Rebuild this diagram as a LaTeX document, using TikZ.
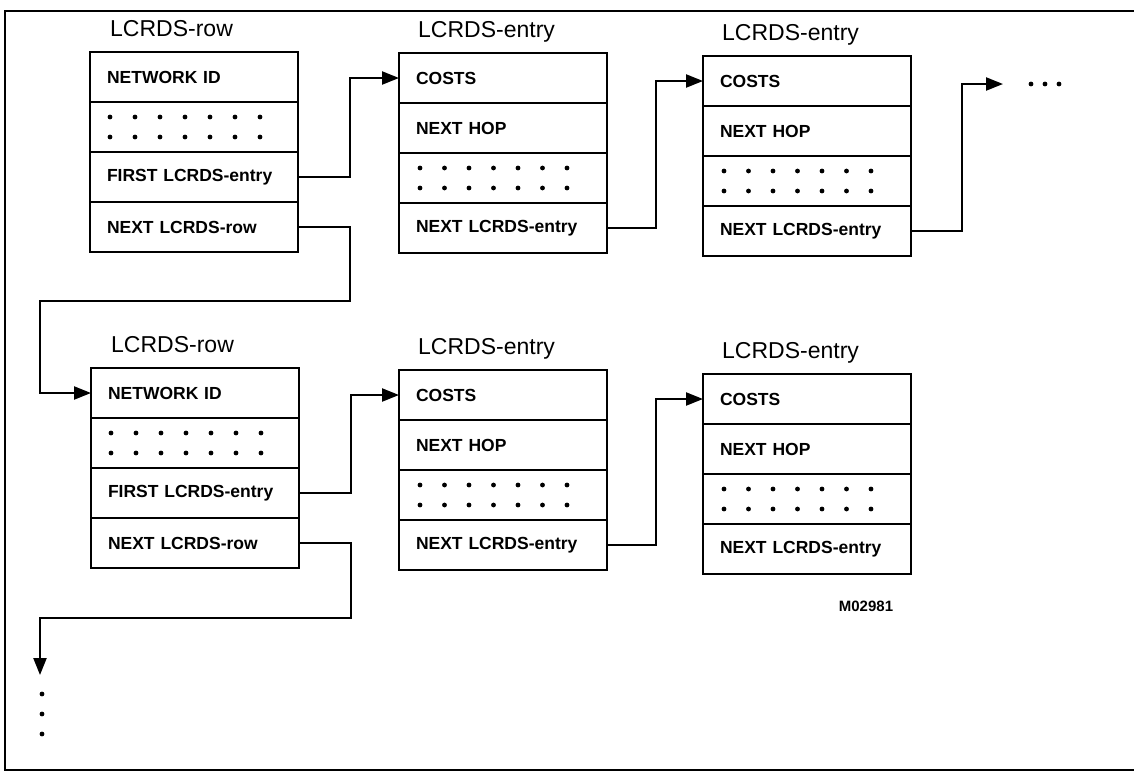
\documentclass[tikz,border=0pt]{standalone}
\usepackage{fontspec}
\setmainfont{Liberation Sans}
\usetikzlibrary{arrows.meta, positioning}

\newcommand\cellfont{\fontsize{17.5}{21}\selectfont\bfseries}
\newcommand\titlefont{\fontsize{23}{26}\selectfont}

\begin{document}
\begin{tikzpicture}[
    x=1pt, y=-1pt,
    cell/.style={draw, line width=2.6pt, outer sep=0pt, minimum width=208pt,
                 minimum height=50pt, text width=174pt, inner xsep=17pt,
                 align=left, font=\cellfont},
    title/.style={anchor=base west, inner sep=0pt, font=\titlefont},
    link/.style={-{Triangle[length=17pt,width=13pt]}, line width=2.3pt}
]
\useasboundingbox (0,0) rectangle (1134,772);
\draw[line width=1.6pt] (1134,11) -- (5,11) -- (5,770) -- (1134,770);

% LCRDS rows
\foreach \n/\x/\y in {r1/90/52, r2/91/368} {
  \node[cell, anchor=north west] (\n-net) at (\x,\y) {NETWORK ID};
  \node[cell, below=0pt of \n-net]   (\n-dots)  {};
  \node[cell, below=0pt of \n-dots]  (\n-first) {FIRST LCRDS-entry};
  \node[cell, below=0pt of \n-first] (\n-next)  {NEXT LCRDS-row};
  \node[title] (\n-title) at ([xshift=20pt,yshift=16pt]\n-net.north west) {LCRDS-row};
  \foreach \i in {0,...,6} \foreach \j in {-10,10}
    \fill ([xshift=20pt+\i*25pt, yshift=\j pt]\n-dots.west) circle (2.4pt);
}

% LCRDS entries
\foreach \n/\x/\y in {e1/399/53, e2/703/56, e3/399/370, e4/703/374} {
  \node[cell, anchor=north west] (\n-costs) at (\x,\y) {COSTS};
  \node[cell, below=0pt of \n-costs] (\n-hop)  {NEXT HOP};
  \node[cell, below=0pt of \n-hop]   (\n-dots) {};
  \node[cell, below=0pt of \n-dots]  (\n-next) {NEXT LCRDS-entry};
  \node[title] (\n-title) at ([xshift=19pt,yshift=16pt]\n-costs.north west) {LCRDS-entry};
  \foreach \i in {0,...,6} \foreach \j in {-10,10}
    \fill ([xshift=21pt+\i*24.5pt, yshift=\j pt]\n-dots.west) circle (2.4pt);
}

% pointers
\draw[link] (r1-first.east) -- ++(52,0) |- (e1-costs.west);
\draw[link] (e1-next.east) -- ++(49,0) |- (e2-costs.west);
\coordinate (more) at (1003,84);
\draw[link] (e2-next.east) -- ++(51,0) |- (more);
\foreach \x in {1031,1045,1059} \fill (\x,84) circle (2.4pt);

\draw[link] (r1-next.east) -- ++(52,0) |- (40,301) |- (r2-net.west);
\draw[link] (r2-first.east) -- ++(52,0) |- (e3-costs.west);
\draw[link] (e3-next.east) -- ++(49,0) |- (e4-costs.west);
\coordinate (down) at (40,675);
\draw[link] (r2-next.east) -- ++(52,0) |- (40,618) -- (down);
\foreach \y in {694,714,734} \fill (42,\y) circle (2.4pt);

\node[font=\fontsize{15}{18}\selectfont\bfseries] (code) at (866,606) {M02981};
\end{tikzpicture}
\end{document}
